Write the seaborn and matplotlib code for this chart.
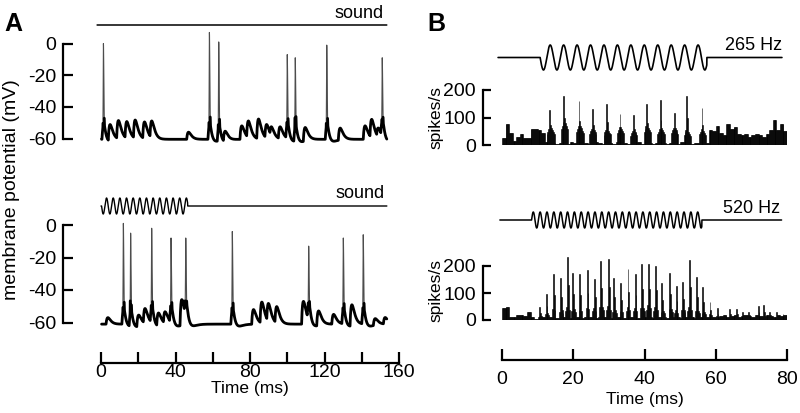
import numpy as np
import pandas as pd
import matplotlib
matplotlib.use("Agg")
import matplotlib.pyplot as plt
import seaborn as sns

sns.set_theme(style="white")
plt.rcParams['font.family'] = ['Liberation Sans', 'DejaVu Sans']
plt.rcParams['axes.unicode_minus'] = False
plt.rcParams['text.color'] = 'black'
plt.rcParams['xtick.color'] = 'black'
plt.rcParams['ytick.color'] = 'black'

# ---- Panel A: membrane potential traces ----
# top trace: no sound
spike_top_t = [1.3, 58.2, 63.2, 100.0, 104.3, 121.2, 151.0]
spike_top_v = [0, 7, 1, -7, -9, -1, -9]
epsp_top_t = [3.9, 8.4, 12.9, 17.4, 22.4, 26.3, 46.0, 65.7, 74.6, 78.2,
              83.6, 88.0, 90.7, 95.2, 108.6, 127.4, 140.8, 144.4, 148.0]
epsp_top_v = [-50, -49, -50, -49, -50, -50, -56, -54, -52, -50,
              -48, -52, -55, -53, -52, -53, -52, -49, -55]

# bottom trace: with sound
spike_bot_t = [12.0, 15.9, 27.2, 37.6, 45.5, 70.5, 111.5, 130.1, 140.8]
spike_bot_v = [1, -5, -2, -8, -8, -4, -13, -8, -6]
epsp_bot_t = [2.7, 19.2, 22.7, 29.9, 33.5, 42.4, 80.9, 85.4, 89.0, 93.4,
              107.7, 115.8, 123.9, 133.7, 146.2, 151.6]
epsp_bot_v = [-57, -54, -52, -53, -54, -45, -52, -48, -50, -51,
              -47, -52, -55, -48, -57, -57]

rest_top, rest_bot = -60.5, -61.0
trace_end_ms = 153.5

# tone stimuli (onset ms, offset ms, frequency Hz)
tone_a = (0.3, 46.5, 280)
tone_b1 = (10.7, 57.5, 265)
tone_b2 = (8.3, 56.1, 520)

# ---- Panel B: PSTHs, spikes/s ----
# background rate per 1 ms bin (0..79 ms)
bg_265 = [25, 75, 45, 15, 30, 40, 25, 25, 60, 60, 55, 45,
          10, 8, 6, 5, 8, 6, 5, 10, 6, 5, 8, 6, 5, 8, 10, 6, 5, 8, 6, 5, 10, 8, 6,
          5, 8, 6, 10, 5, 8, 6, 5, 8, 10, 6, 5, 8, 6, 5, 10, 8, 6, 5, 8, 6, 10, 8,
          55, 50, 70, 45, 35, 75, 60, 65, 40, 35, 40, 30, 35, 40, 35, 30, 40, 55,
          90, 55, 75, 50]
peak_265_t = [13.5, 17.4, 21.7, 25.4, 29.4, 33.1, 36.9, 40.6, 44.5, 48.3, 51.8, 56.1]
peak_265_h = [127, 179, 161, 130, 149, 113, 109, 148, 164, 115, 179, 133]
mass_265 = [75, 100, 85, 70, 65, 75, 60, 80, 75, 70, 60, 65]

bg_520 = [45, 50, 10, 12, 20, 20, 15, 28, 10, 5,
          12, 10, 8, 12, 10, 8, 10, 12, 10, 8, 10, 12, 8, 10, 12, 10, 8, 10, 12, 10,
          8, 10, 12, 10, 8, 10, 12, 10, 8, 10, 12, 10, 8, 10, 12, 10, 8, 10, 12, 10,
          8, 10, 12, 10, 8, 10, 12, 10, 8, 10, 12,
          15, 20, 12, 15, 18, 12, 15, 20, 15, 12, 18, 15, 12, 20, 15, 12, 18, 15, 20]
peak_520_t = [10.7, 12.5, 14.4, 16.5, 18.3, 20.0, 21.9, 23.9, 25.8, 27.7,
              29.8, 31.5, 33.4, 35.3, 37.3, 39.2, 41.1, 43.1, 45.0, 47.2,
              48.8, 50.7, 52.6, 54.7, 56.5, 58.4, 60.3, 64.0, 65.9, 67.7,
              69.1, 72.0, 73.4, 75.2, 77.1, 79.0]
peak_520_h = [49, 95, 170, 154, 234, 173, 170, 185, 152, 218,
              225, 154, 138, 188, 170, 206, 207, 201, 138, 173,
              126, 142, 222, 158, 123, 68, 43, 40, 40, 31,
              31, 52, 56, 31, 31, 22]
mass_520 = [20, 35, 55, 50, 60, 55, 50, 60, 55, 70,
            65, 50, 45, 60, 55, 65, 70, 60, 45, 60,
            45, 55, 60, 50, 40, 30, 20, 15, 15, 12,
            12, 20, 20, 15, 12, 10]

time_ticks_a = [0, 40, 80, 120, 160]
time_minor_a = [20, 60, 100, 140]
time_ticks_b = [0, 20, 40, 60, 80]
mv_ticks = [-60, -40, -20, 0]
rate_ticks = [0, 100, 200]

BIN_MS = 0.25


def membrane(t, rest, spk_t, spk_v, psp_t, psp_v):
    v = np.full(t.shape, rest)
    tau = 1.0
    for tp, vp in zip(psp_t, psp_v):
        d = np.clip(t - tp, 0, None)
        v += (vp - rest) * d / tau * np.exp(1 - d / tau)
    for ts in spk_t:
        # depolarising foot before the spike and a short afterhyperpolarisation
        d = np.clip(t - (ts - 0.8), 0, None)
        v += 8 * d / tau * np.exp(1 - d / tau)
        d = np.clip(t - (ts + 0.8), 0, None)
        v -= 3 * d / 1.5 * np.exp(1 - d / 1.5)
    for ts, vp in zip(spk_t, spk_v):
        d = t - ts
        w = np.where(d < 0, 0.15, 0.3)
        vs = np.interp(ts, t, v)
        v = v + (vp - vs) * np.exp(-(d / w) ** 2)
    return v


def tone_wave(t, on, off, hz, sign):
    y = np.zeros_like(t)
    inside = (t >= on) & (t <= off)
    y[inside] = sign * np.sin(2 * np.pi * hz / 1000 * (t[inside] - on))
    return y


def psth(bg, pk_t, pk_h, mass, before, after):
    centers = np.arange(BIN_MS / 2, 80, BIN_MS)
    h = np.array([bg[int(c)] for c in centers], dtype=float)
    for tp, hp, m in zip(pk_t, pk_h, mass):
        near = (centers >= tp - before) & (centers <= tp + after)
        span = np.where(centers < tp, before, after)
        taper = m * (1 - 0.5 * np.abs(centers - tp) / span)
        h[near] = np.maximum(h[near], taper[near])
        k = np.argmin(np.abs(centers - tp))
        h[k] = max(h[k], hp)
        if k + 1 < len(h):
            h[k + 1] = max(h[k + 1], 0.55 * hp)
    return pd.DataFrame({'t': centers, 'rate': h})


W, H = 800, 413
fig = plt.figure(figsize=(8, 4.13), dpi=100)


def add_ax(x0, y0, x1, y1):
    ax = fig.add_axes([x0 / W, 1 - y1 / H, (x1 - x0) / W, (y1 - y0) / H])
    ax.set_facecolor('none')
    for s in ax.spines.values():
        s.set_visible(False)
    ax.set_xticks([])
    ax.set_yticks([])
    return ax


def scale_bar(ax, ticks, outward, length):
    sp = ax.spines['left']
    sp.set_visible(True)
    sp.set_position(('outward', outward))
    sp.set_bounds(ticks[0], ticks[-1])
    sp.set_linewidth(1.6)
    sp.set_color('black')
    ax.set_yticks(ticks)
    ax.set_yticklabels([str(v) for v in ticks])
    ax.tick_params(axis='y', direction='in', length=length, width=1.6,
                   labelsize=14, pad=5, color='black', labelcolor='black', left=True)


def time_axis(ax, lim, major, minor, pad):
    ax.set_xlim(lim)
    sp = ax.spines['bottom']
    sp.set_visible(True)
    sp.set_bounds(major[0], major[-1])
    sp.set_linewidth(1.6)
    sp.set_color('black')
    ax.set_xticks(major)
    ax.set_xticklabels([str(v) for v in major])
    ax.set_xticks(minor, minor=True)
    ax.tick_params(axis='x', which='both', direction='in', length=8, width=1.6,
                   labelsize=14, pad=pad, color='black', labelcolor='black',
                   bottom=True)


def draw_trace(ax, t, v):
    sns.lineplot(x=t, y=v, ax=ax, color='0.3', lw=0.8, estimator=None, sort=False)
    ax.plot(t, np.where(v < -46, v, np.nan), color='black', lw=2.0)


def draw_tone(ax, t, y, lw):
    sns.lineplot(x=t, y=y, ax=ax, color='black', lw=lw, estimator=None, sort=False)


def draw_psth(ax, df):
    sns.histplot(data=df, x='t', weights='rate', binwidth=BIN_MS, binrange=(0, 80),
                 ax=ax, color='black', alpha=1, edgecolor='black', linewidth=0.4)
    ax.set_xlabel('')
    ax.set_ylabel('')
    ax.set_xticks([])


# ---------------- Panel A ----------------
A_LIM = (-5, 160)
ax_x0, ax_x1 = 91.69, 399

t_a = np.arange(0.3, trace_end_ms, 0.05)
v_top = membrane(t_a, rest_top, spike_top_t, spike_top_v, epsp_top_t, epsp_top_v)
v_bot = membrane(t_a, rest_bot, spike_bot_t, spike_bot_v, epsp_bot_t, epsp_bot_v)

ax_s1 = add_ax(ax_x0, 15.4, ax_x1, 34.6)
ts1 = np.arange(-2.1, trace_end_ms, 0.05)
draw_tone(ax_s1, ts1, np.zeros_like(ts1), 1.1)
ax_s1.set_xlim(A_LIM)
ax_s1.set_ylim(-1.2, 1.2)

ax_t1 = add_ax(ax_x0, 27.7, ax_x1, 148.0)
draw_trace(ax_t1, t_a, v_top)
ax_t1.set_xlim(A_LIM)
ax_t1.set_ylim(-66, 10)
scale_bar(ax_t1, mv_ticks, 20.3, 7)

ax_s2 = add_ax(ax_x0, 196.4, ax_x1, 215.6)
ts2 = np.arange(0.0, trace_end_ms, 0.02)
draw_tone(ax_s2, ts2, tone_wave(ts2, *tone_a, sign=-1), 1.0)
ax_s2.set_xlim(A_LIM)
ax_s2.set_ylim(-1.2, 1.2)

ax_t2 = add_ax(ax_x0, 208.75, ax_x1, 332.25)
draw_trace(ax_t2, t_a, v_bot)
ax_t2.set_xlim(A_LIM)
ax_t2.set_ylim(-66, 10)
scale_bar(ax_t2, mv_ticks, 20.3, 7)

ax_ta = add_ax(ax_x0, 330, ax_x1, 363)
time_axis(ax_ta, A_LIM, time_ticks_a, time_minor_a, pad=1)

# ---------------- Panel B ----------------
B_LIM = (-2, 80)
bx0, bx1 = 494.875, 787

ax_b1 = add_ax(bx0, 42.5, bx1, 72.5)
tb1 = np.arange(-1.1, 78.6, 0.02)
draw_tone(ax_b1, tb1, tone_wave(tb1, *tone_b1, sign=-1), 1.2)
ax_b1.set_xlim(B_LIM)
ax_b1.set_ylim(-1.2, 1.2)

df1 = psth(bg_265, peak_265_t, peak_265_h, mass_265, 0.9, 1.2)
ax_p1 = add_ax(bx0, 76.25, bx1, 145)
draw_psth(ax_p1, df1)
ax_p1.set_xlim(B_LIM)
ax_p1.set_ylim(0, 250)
scale_bar(ax_p1, rate_ticks, 8.6, 6)

ax_b2 = add_ax(bx0, 210.4, bx1, 229.6)
tb2 = np.arange(-0.6, 78.5, 0.02)
draw_tone(ax_b2, tb2, tone_wave(tb2, *tone_b2, sign=1), 1.1)
ax_b2.set_xlim(B_LIM)
ax_b2.set_ylim(-1.2, 1.2)

df2 = psth(bg_520, peak_520_t, peak_520_h, mass_520, 0.5, 0.7)
ax_p2 = add_ax(bx0, 252.5, bx1, 320)
draw_psth(ax_p2, df2)
ax_p2.set_xlim(B_LIM)
ax_p2.set_ylim(0, 250)
scale_bar(ax_p2, rate_ticks, 8.6, 6)

ax_tb = add_ax(bx0, 330, bx1, 359.5)
time_axis(ax_tb, B_LIM, time_ticks_b, [], pad=8)


# ---------------- text ----------------
def ftext(x, y, s, **kw):
    fig.text(x / W, 1 - y / H, s, color='black', **kw)


ftext(13.5, 24, 'A', fontsize=18, fontweight='bold', ha='center', va='center')
ftext(436.5, 24, 'B', fontsize=18, fontweight='bold', ha='center', va='center')
ftext(384, 14, 'sound', fontsize=13, ha='right', va='center')
ftext(385, 194, 'sound', fontsize=13, ha='right', va='center')
ftext(782, 45, '265 Hz', fontsize=13, ha='right', va='center')
ftext(780, 208, '520 Hz', fontsize=13, ha='right', va='center')
ftext(12, 190, 'membrane potential (mV)', fontsize=14, rotation=90,
      ha='center', va='center')
ftext(436, 117, 'spikes/s', fontsize=12.5, rotation=90, ha='center', va='center')
ftext(436, 290, 'spikes/s', fontsize=12.5, rotation=90, ha='center', va='center')
ftext(250, 389, 'Time (ms)', fontsize=12.5, ha='center', va='center')
ftext(645, 399.5, 'Time (ms)', fontsize=12.5, ha='center', va='center')

fig.savefig('out.png', dpi=100, facecolor='white')
